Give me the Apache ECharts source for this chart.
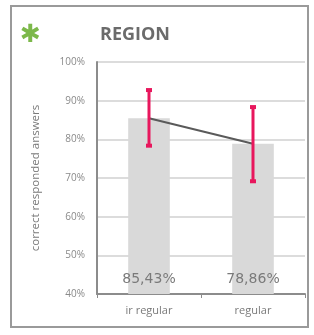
<!DOCTYPE html>
<html>
<head>
<meta charset="utf-8">
<script src="https://cdn.jsdelivr.net/npm/echarts@6/dist/echarts.min.js"></script>
<style>
  html, body { margin: 0; padding: 0; background: #fff; }
  #chart { width: 314px; height: 335px; }
</style>
</head>
<body>
<div id="chart"></div>
<script>
const categories = ['ir regular', 'regular']
const means = [85.43, 78.86]
const errLow = [78.1, 68.9]
const errHigh = [93.0, 88.6]
const valueLabels = ['85,43%', '78,86%']

const chart = echarts.init(document.getElementById('chart'))

const errData = categories.map((c, i) => [i, errLow[i], errHigh[i]])

chart.setOption({
  animation: false,
  grid: { left: 97, right: 9, top: 62, bottom: 41, containLabel: false },
  graphic: [
    {
      type: 'rect',
      shape: { x: 11, y: 6, width: 297, height: 321 },
      style: { fill: 'none', stroke: '#9a9a9a', lineWidth: 2 }
    },
    {
      type: 'text',
      left: 20, top: 23,
      style: { text: '✱', fill: '#7cb84a', font: 'bold 25px DejaVu Sans' }
    },
    {
      type: 'text',
      left: 100, top: 26,
      style: { text: 'REGION', fill: '#6b6b6b', font: 'bold 18px "Open Sans"' }
    }
  ],
  xAxis: {
    type: 'category',
    data: categories,
    axisLine: { lineStyle: { color: '#8c8c8c', width: 2 } },
    axisTick: { show: true, length: 4, lineStyle: { color: '#8c8c8c' } },
    axisLabel: { color: '#7a7a7a', fontSize: 11, margin: 11, fontFamily: 'Open Sans' }
  },
  yAxis: {
    type: 'value',
    min: 40,
    max: 100,
    interval: 10,
    name: 'correct responded answers',
    nameLocation: 'middle',
    nameGap: 55,
    nameTextStyle: { color: '#7a7a7a', fontSize: 11.5, fontFamily: 'Open Sans' },
    axisLine: { show: true, lineStyle: { color: '#8c8c8c', width: 2 } },
    axisTick: { show: false },
    axisLabel: { color: '#8a8a8a', fontSize: 10, margin: 12, fontFamily: 'Open Sans', formatter: '{value}%' },
    splitLine: { lineStyle: { color: '#dcdcdc', width: 2 } }
  },
  series: [
    {
      type: 'bar',
      data: means,
      barWidth: '40%',
      itemStyle: { color: '#d9d9d9' },
      label: {
        show: true,
        position: 'insideBottom',
        distance: 8,
        color: '#7a7a7a',
        fontSize: 14,
        fontFamily: 'DejaVu Sans',
        formatter: p => valueLabels[p.dataIndex]
      },
      z: 2
    },
    {
      type: 'line',
      data: means,
      symbol: 'none',
      lineStyle: { color: '#5a5a5a', width: 2 },
      z: 3
    },
    {
      type: 'custom',
      data: errData,
      z: 4,
      renderItem: (params, api) => {
        const x = api.value(0)
        const lo = api.coord([x, api.value(1)])
        const hi = api.coord([x, api.value(2)])
        const cap = 3
        const st = { stroke: '#e8175d', lineWidth: 3 }
        return {
          type: 'group',
          children: [
            { type: 'line', shape: { x1: hi[0], y1: hi[1], x2: lo[0], y2: lo[1] }, style: st },
            { type: 'rect', shape: { x: hi[0] - cap, y: hi[1] - 1, width: cap * 2, height: 4 }, style: { fill: '#e8175d' } },
            { type: 'rect', shape: { x: lo[0] - cap, y: lo[1] - 3, width: cap * 2, height: 4 }, style: { fill: '#e8175d' } }
          ]
        }
      }
    }
  ]
})
</script>
</body>
</html>
